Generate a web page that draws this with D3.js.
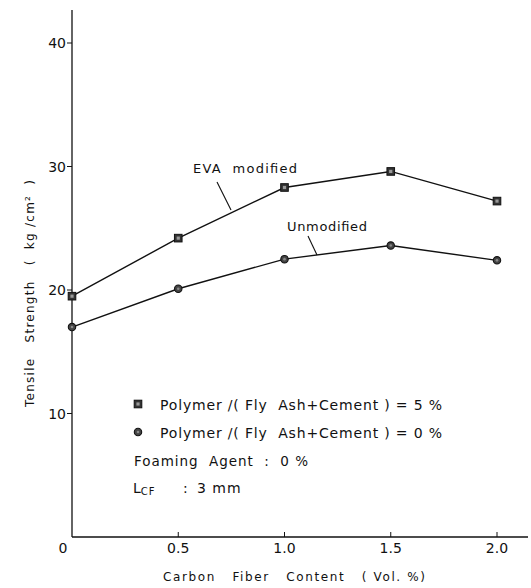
<!DOCTYPE html>
<html>
<head>
<meta charset="utf-8">
<script src="https://cdn.jsdelivr.net/npm/d3@7"></script>
<style>
  body { margin: 0; background: #fff; }
  svg { display: block; }
  text { font-family: "DejaVu Sans", sans-serif; fill: #111; white-space: pre; }
</style>
</head>
<body>
<svg id="chart" width="531" height="588"></svg>
<script>
// fiber content (vol. %)
var fiber = [0, 0.5, 1.0, 1.5, 2.0];
// tensile strength, kg/cm2
var evaModified = [19.5, 24.2, 28.3, 29.6, 27.2];
var unmodified = [17.0, 20.1, 22.5, 23.6, 22.4];
var xTicks = [0, 0.5, 1.0, 1.5, 2.0];
var xTickLabels = ["0", "0.5", "1.0", "1.5", "2.0"];
var yTicks = [0, 10, 20, 30, 40];
var legendLines = [
  "Polymer /( Fly  Ash+Cement ) = 5 %",
  "Polymer /( Fly  Ash+Cement ) = 0 %"
];

var svg = d3.select("#chart");

var x = d3.scaleLinear().domain([0, 2.0]).range([72, 497]);
var y = d3.scaleLinear().domain([0, 40]).range([537, 43]);

// spread a text to a given width, like the hand lettering
function label(g, px, py, size, str, len) {
  var t = g.append("text").attr("x", px).attr("y", py)
    .attr("font-size", size).text(str);
  if (len) t.attr("textLength", len).attr("lengthAdjust", "spacing");
  return t;
}

// axes lines
svg.append("line").attr("x1", 72).attr("x2", 72).attr("y1", 10).attr("y2", 537)
  .attr("stroke", "#111").attr("stroke-width", 1.3);
svg.append("line").attr("x1", 72).attr("x2", 528).attr("y1", 537).attr("y2", 537)
  .attr("stroke", "#111").attr("stroke-width", 1.3);

// y ticks (outward)
var yAxis = svg.append("g");
yTicks.forEach(function(t) {
  if (t > 0) {
    yAxis.append("line").attr("x1", 67).attr("x2", 72)
      .attr("y1", y(t)).attr("y2", y(t)).attr("stroke", "#111");
    yAxis.append("text").attr("x", 66).attr("y", y(t) + 5)
      .attr("text-anchor", "end").attr("font-size", 14).text(t);
  } else {
    yAxis.append("text").attr("x", 63).attr("y", 553)
      .attr("text-anchor", "middle").attr("font-size", 14).text(t);
  }
});

// x ticks (inward, tiny)
var xAxis = svg.append("g");
xTicks.forEach(function(t, i) {
  if (t > 0) {
    xAxis.append("line").attr("x1", x(t)).attr("x2", x(t))
      .attr("y1", 532).attr("y2", 537).attr("stroke", "#111");
    xAxis.append("text").attr("x", x(t)).attr("y", 553)
      .attr("text-anchor", "middle").attr("font-size", 14)
      .text(xTickLabels[i]);
  }
});

// axis titles
label(svg, 163, 581, 12, "Carbon   Fiber   Content   ( Vol. %)", 262);

var yl = svg.append("g").attr("transform", "translate(34,407) rotate(-90)");
label(yl, 0, 0, 12, "Tensile   Strength   (  kg /cm\u00b2  )", 227);

// lines
var line = d3.line().x(function(d, i) { return x(fiber[i]); }).y(function(d) { return y(d); });

svg.append("path").datum(evaModified).attr("d", line)
  .attr("fill", "none").attr("stroke", "#111").attr("stroke-width", 1.4);
svg.append("path").datum(unmodified).attr("d", line)
  .attr("fill", "none").attr("stroke", "#111").attr("stroke-width", 1.4);

function squareMark(g, cx, cy) {
  g.append("rect").attr("x", cx - 3.8).attr("y", cy - 3.8)
    .attr("width", 7.6).attr("height", 7.6).attr("fill", "#333").attr("stroke", "#111");
  g.append("rect").attr("x", cx - 1.6).attr("y", cy - 1.6)
    .attr("width", 3.2).attr("height", 3.2).attr("fill", "#999");
}
function circleMark(g, cx, cy) {
  g.append("circle").attr("cx", cx).attr("cy", cy).attr("r", 3.7)
    .attr("fill", "#444").attr("stroke", "#111").attr("stroke-width", 1.1);
  g.append("circle").attr("cx", cx).attr("cy", cy).attr("r", 1.3).attr("fill", "#888");
}

var marks = svg.append("g");
evaModified.forEach(function(v, i) { squareMark(marks, x(fiber[i]), y(v)); });
unmodified.forEach(function(v, i) { circleMark(marks, x(fiber[i]), y(v)); });

// annotations
label(svg, 193, 173, 13, "EVA  modified", 104);
svg.append("line").attr("x1", 217).attr("y1", 182).attr("x2", 231).attr("y2", 210)
  .attr("stroke", "#111").attr("stroke-width", 1.1);
label(svg, 287, 231, 13, "Unmodified", 80);
svg.append("line").attr("x1", 308).attr("y1", 236).attr("x2", 317).attr("y2", 255)
  .attr("stroke", "#111").attr("stroke-width", 1.1);

// legend
var leg = svg.append("g");
squareMark(leg, 138, 404);
circleMark(leg, 138, 432);
label(leg, 160, 410, 14, legendLines[0], 282);
label(leg, 160, 438, 14, legendLines[1], 282);
label(leg, 134, 466, 13.5, "Foaming  Agent  :  0 %", 174);
var lcf = leg.append("text").attr("x", 133).attr("y", 493).attr("font-size", 14);
lcf.append("tspan").text("L");
lcf.append("tspan").attr("font-size", 10).attr("dy", 2).attr("letter-spacing", 1).text("CF");
lcf.append("tspan").attr("dy", -2).attr("x", 183).text(":");
lcf.append("tspan").attr("x", 197).attr("letter-spacing", 1).text("3 mm");
</script>
</body>
</html>
